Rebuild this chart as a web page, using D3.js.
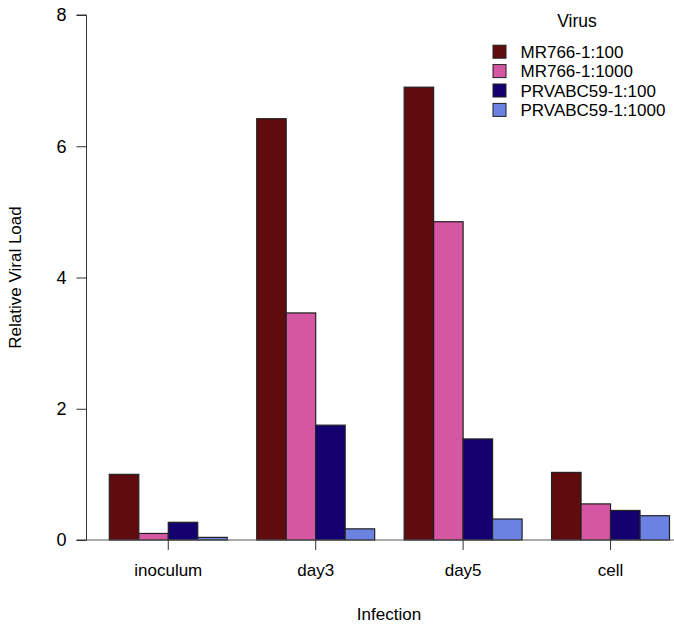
<!DOCTYPE html>
<html>
<head>
<meta charset="utf-8">
<script src="https://cdn.jsdelivr.net/npm/d3@7"></script>
<style>
  body{margin:0;background:#fff;}
  text{font-family:"Liberation Sans", Arial, sans-serif;fill:#000;}
</style>
</head>
<body>
<svg id="main"></svg>
<script>
//--------data----------
const categories = ['inoculum', 'day3', 'day5', 'cell'];
const series = ['MR766-1:100', 'MR766-1:1000', 'PRVABC59-1:100', 'PRVABC59-1:1000'];
const colors = ['#600b0e', '#d556a2', '#14006e', '#6b82e2'];
// one array per series, in category order
const mr766_100 = [1.0, 6.42, 6.9, 1.03];
const mr766_1000 = [0.1, 3.46, 4.85, 0.55];
const prv_100 = [0.27, 1.75, 1.54, 0.45];
const prv_1000 = [0.04, 0.17, 0.32, 0.37];
const values = [mr766_100, mr766_1000, prv_100, prv_1000];
const yTicks = [0, 2, 4, 6, 8];

//--------code----------
let width = 674, height = 625;
let svg = d3.select('#main')
.attr('width', width)
.attr('height', height);

let fs = 17;

let sy = d3.scaleLinear().domain([0, 8]).range([540, 15]);
let sx = d3.scaleBand().domain(categories).range([109.3, 669.5])
.paddingInner(0.2).paddingOuter(0);
let sxi = d3.scaleBand().domain(series).range([0, sx.bandwidth()]);

//bars
let rows = [];
categories.forEach((c,i)=>{
  series.forEach((s,j)=>{
    rows.push({cat:c, ser:s, val:values[j][i], col:colors[j]});
  });
});

svg.selectAll('.bar')
.data(rows)
.join('rect')
.attr('class', 'bar')
.attr('x', d=>sx(d.cat)+sxi(d.ser))
.attr('y', d=>sy(d.val))
.attr('width', sxi.bandwidth())
.attr('height', d=>sy(0)-sy(d.val))
.attr('fill', d=>d.col)
.attr('stroke', '#222')
.attr('stroke-width', 1.2);

//y axis
let ay = d3.axisLeft(sy).tickValues(yTicks).tickSize(10).tickPadding(10).tickFormat(d3.format('d'));
let gy = svg.append('g')
.attr('transform', 'translate(86.5,0)')
.call(ay);
gy.select('.domain').attr('d', `M-10,${sy(8)}H0V${sy(0)}H-10`).attr('stroke', '#333');
gy.selectAll('.tick line').attr('stroke', '#333');
gy.selectAll('.tick text')
.style('font-family', '"Liberation Sans", Arial, sans-serif')
.style('font-size', '18px')
.attr('fill', '#000');

//x axis
let ax = d3.axisBottom(sx).tickSize(10).tickPadding(14).tickSizeOuter(0);
let gx = svg.append('g')
.attr('transform', `translate(0,${sy(0)})`)
.call(ax);
gx.select('.domain').attr('d', 'M86.5,0H674').attr('stroke', '#555');
gx.selectAll('.tick line').attr('stroke', '#333');
gx.selectAll('.tick text')
.style('font-family', '"Liberation Sans", Arial, sans-serif')
.style('font-size', fs+'px')
.attr('fill', '#000');

//axis titles
svg.append('text')
.attr('x', 389)
.attr('y', 620)
.attr('text-anchor', 'middle')
.style('font-size', fs+'px')
.text('Infection');

svg.append('text')
.attr('transform', 'translate(20.5,277.5) rotate(-90)')
.attr('text-anchor', 'middle')
.style('font-size', fs+'px')
.text('Relative Viral Load');

//legend
let lg = svg.append('g');
lg.append('text')
.attr('x', 577)
.attr('y', 27)
.attr('text-anchor', 'middle')
.style('font-size', '17.5px')
.text('Virus');

let item = lg.selectAll('.item')
.data(series)
.join('g')
.attr('class', 'item')
.attr('transform', (d,i)=>`translate(0,${51.7 + i*19.4})`);
item.append('rect')
.attr('x', 493)
.attr('y', -6.5)
.attr('width', 13)
.attr('height', 13)
.attr('fill', (d,i)=>colors[i])
.attr('stroke', '#222')
.attr('stroke-width', 1);
item.append('text')
.attr('x', 520.5)
.attr('y', 6)
.style('font-size', fs+'px')
.text(d=>d);
</script>
</body>
</html>
